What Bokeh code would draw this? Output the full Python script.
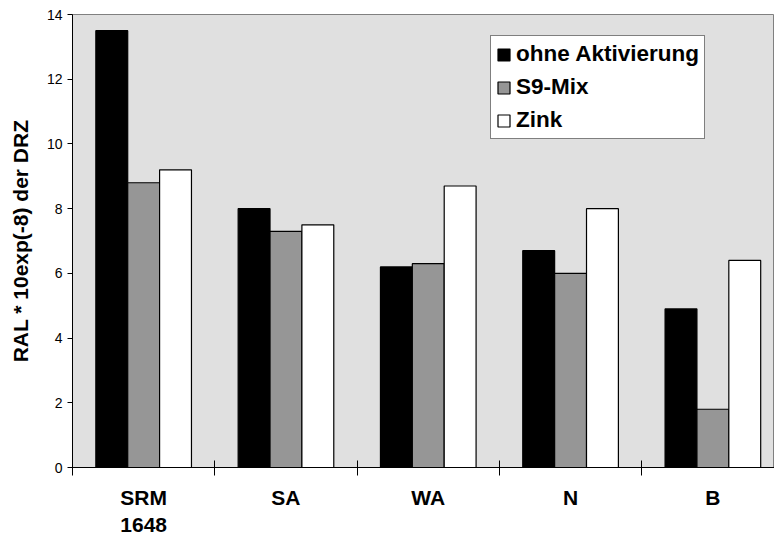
from bokeh.plotting import figure
from bokeh.models import ColumnDataSource, FixedTicker, Legend, LegendItem, Range1d
from bokeh.transform import dodge
from bokeh.embed import file_html
from bokeh.resources import INLINE

categories = ["SRM\n1648", "SA", "WA", "N", "B"]
ohne_aktivierung = [13.5, 8.0, 6.2, 6.7, 4.9]
s9_mix = [8.8, 7.3, 6.3, 6.0, 1.8]
zink = [9.2, 7.5, 8.7, 8.0, 6.4]
series_names = ["ohne Aktivierung", "S9-Mix", "Zink"]
series_colors = ["#000000", "#969696", "#ffffff"]
y_ticks = [0, 2, 4, 6, 8, 10, 12, 14]

centers = [i + 0.5 for i in range(len(categories))]
source = ColumnDataSource(dict(x=centers, a=ohne_aktivierung, b=s9_mix, c=zink))

FONT = "Liberation Sans"
BW = 0.224

p = figure(width=774, height=539, output_backend="svg", toolbar_location=None,
           x_range=Range1d(0, 4.933), y_range=Range1d(0, 14),
           min_border_left=72, min_border_right=0, min_border_top=14, min_border_bottom=72)
p.background_fill_color = "#e0e0e0"
p.border_fill_color = "white"
p.outline_line_color = "#808080"
p.outline_line_width = 1
p.xgrid.visible = False
p.ygrid.visible = False

renderers = []
for col, off, color in zip(["a", "b", "c"], [-BW, 0.0, BW], series_colors):
    r = p.vbar(x=dodge("x", off), top=col, width=BW, source=source,
               fill_color=color, line_color="#000000", line_width=1.2)
    renderers.append(r)

# x axis: boundary tick marks (minor), category labels at centers (major)
xa = p.xaxis[0]
xa.ticker = FixedTicker(ticks=centers, minor_ticks=[float(i) for i in range(len(categories) + 1)])
xa.major_label_overrides = {c: lab for c, lab in zip(centers, categories)}
xa.major_tick_in = 0
xa.major_tick_out = 0
xa.minor_tick_in = 7
xa.minor_tick_out = 8
xa.minor_tick_line_color = "#000000"
xa.axis_line_color = "#000000"
xa.major_label_text_font = FONT
xa.major_label_text_font_style = "bold"
xa.major_label_text_font_size = "21px"
xa.major_label_text_color = "#000000"
xa.major_label_text_line_height = 1.2
xa.major_label_standoff = 10

ya = p.yaxis[0]
ya.ticker = FixedTicker(ticks=y_ticks, minor_ticks=[])
ya.major_tick_in = 0
ya.major_tick_out = 5
ya.major_tick_line_color = "#000000"
ya.axis_line_color = "#000000"
ya.major_label_text_font = FONT
ya.major_label_text_font_size = "14px"
ya.major_label_text_color = "#000000"
ya.major_label_standoff = 5
ya.axis_label = "RAL * 10exp(-8) der DRZ"
ya.axis_label_text_font = FONT
ya.axis_label_text_font_style = "bold"
ya.axis_label_text_font_size = "21px"
ya.axis_label_text_color = "#000000"
ya.axis_label_standoff = 12

legend = Legend(items=[LegendItem(label=n, renderers=[r]) for n, r in zip(series_names, renderers)],
                location=(418, 328))
legend.background_fill_color = "white"
legend.background_fill_alpha = 1.0
legend.border_line_color = "#000000"
legend.border_line_width = 1
legend.label_text_font = FONT
legend.label_text_font_style = "bold"
legend.label_text_font_size = "22.5px"
legend.label_text_color = "#000000"
legend.label_height = 18
legend.glyph_width = 15
legend.glyph_height = 15
legend.label_standoff = 5
legend.padding = 5
legend.spacing = 7
legend.margin = 0
p.add_layout(legend, "center")

open("out.html", "w").write(file_html(p, INLINE))
